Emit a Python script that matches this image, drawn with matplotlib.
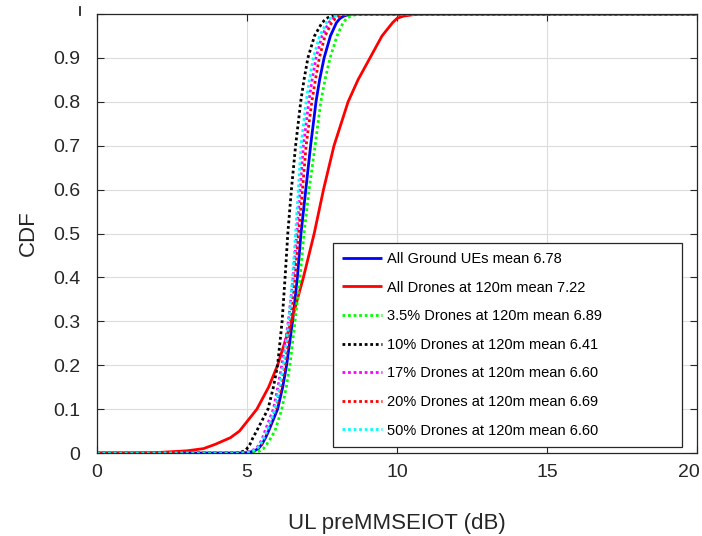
import matplotlib
matplotlib.use("Agg")
import matplotlib.pyplot as plt
from matplotlib.lines import Line2D
from matplotlib.transforms import ScaledTranslation

plt.rcParams['font.family'] = ['Liberation Sans', 'DejaVu Sans']

# CDF levels (y) and x-values at those levels
cdf_levels = [0.0, 0.0, 0.001, 0.005, 0.01, 0.02, 0.035, 0.05, 0.1, 0.15, 0.2, 0.3, 0.4, 0.5,
              0.6, 0.7, 0.8, 0.85, 0.9, 0.95, 0.98, 0.99, 0.995, 0.999, 1.0, 1.0]

ground_x = [0, 4.7, 5.05, 5.25, 5.38, 5.50, 5.62, 5.72, 6.02, 6.19, 6.32, 6.52, 6.68, 6.80,
            6.96, 7.12, 7.30, 7.42, 7.57, 7.78, 7.98, 8.10, 8.22, 8.40, 8.7, 20]
drones_x = [0, 1.2, 2.00, 3.00, 3.55, 3.95, 4.45, 4.75, 5.33, 5.72, 6.02, 6.48, 6.88, 7.24,
            7.55, 7.90, 8.37, 8.70, 9.10, 9.50, 9.85, 10.00, 10.20, 10.60, 11.0, 20]
p35_x    = [0, 5.0, 5.25, 5.43, 5.55, 5.66, 5.80, 5.93, 6.16, 6.31, 6.43, 6.60, 6.77, 6.90,
            7.07, 7.27, 7.46, 7.60, 7.77, 8.00, 8.20, 8.32, 8.45, 8.65, 9.0, 20]
p10_x    = [0, 4.4, 4.75, 4.93, 5.00, 5.10, 5.20, 5.32, 5.70, 5.88, 6.02, 6.17, 6.27, 6.36,
            6.48, 6.62, 6.79, 6.90, 7.03, 7.25, 7.50, 7.65, 7.80, 8.00, 8.3, 20]
p17_x    = [0, 4.7, 4.95, 5.15, 5.30, 5.42, 5.52, 5.60, 5.88, 6.03, 6.16, 6.38, 6.54, 6.66,
            6.77, 6.88, 7.06, 7.17, 7.30, 7.50, 7.72, 7.85, 8.00, 8.20, 8.5, 20]
p20_x    = [0, 4.7, 5.00, 5.22, 5.35, 5.48, 5.60, 5.69, 5.97, 6.13, 6.27, 6.45, 6.60, 6.72,
            6.85, 6.97, 7.16, 7.28, 7.41, 7.60, 7.82, 7.95, 8.10, 8.30, 8.6, 20]
p50_x    = [0, 4.7, 5.00, 5.20, 5.33, 5.45, 5.56, 5.66, 5.93, 6.08, 6.21, 6.40, 6.52, 6.62,
            6.71, 6.80, 6.97, 7.08, 7.21, 7.42, 7.65, 7.78, 7.92, 8.10, 8.4, 20]

labels = ["All Ground UEs mean 6.78",
          "All Drones at 120m mean 7.22",
          "3.5% Drones at 120m mean 6.89",
          "10% Drones at 120m mean 6.41",
          "17% Drones at 120m mean 6.60",
          "20% Drones at 120m mean 6.69",
          "50% Drones at 120m mean 6.60"]

x_ticks = [0, 5, 10, 15, 20]
y_ticks = [0, 0.1, 0.2, 0.3, 0.4, 0.5, 0.6, 0.7, 0.8, 0.9, 1.0]
y_ticklabels = ["0", "0.1", "0.2", "0.3", "0.4", "0.5", "0.6", "0.7", "0.8", "0.9", ""]

fig = plt.figure(figsize=(7.02, 5.36), dpi=100)
ax = fig.add_axes([97/702, 83/536, 600/702, 439/536])

series = [
    (ground_x, '#0000ff', '-'),
    (drones_x, '#ff0000', '-'),
    (p35_x, '#00ff00', ':'),
    (p10_x, '#000000', ':'),
    (p17_x, '#ff00ff', ':'),
    (p20_x, '#ff0000', ':'),
    (p50_x, '#00ffff', ':'),
]
for (xs, col, ls), lab in zip(series, labels):
    if ls == '-':
        ax.plot(xs, cdf_levels, color=col, lw=2.0, label=lab,
                solid_capstyle='butt', solid_joinstyle='round')
    else:
        ax.plot(xs, cdf_levels, color=col, lw=2.0, label=lab,
                linestyle=(0, (1, 1)), dash_capstyle='butt')

ax.set_xlim(0, 20)
ax.set_ylim(0, 1)
ax.set_xticks(x_ticks)
ax.set_yticks(y_ticks)
ax.set_yticklabels(y_ticklabels)
ax.tick_params(direction='in', length=5, width=0.8, colors='#262626',
               labelsize=14, top=True, right=True)
ax.tick_params(axis='x', pad=8)
ax.tick_params(axis='y', pad=12)
for lab in ax.get_xticklabels() + ax.get_yticklabels():
    lab.set_color('#262626')

# last x tick label sits slightly left, inside the figure
last = ax.get_xticklabels()[-1]
last.set_transform(last.get_transform() + ScaledTranslation(-8/100, 0, fig.dpi_scale_trans))

ax.grid(True, color='#dcdcdc', lw=0.8)
ax.set_axisbelow(True)
for s in ax.spines.values():
    s.set_color('#262626')
    s.set_linewidth(0.9)

ax.set_xlabel("UL preMMSEIOT (dB)", fontsize=16, color='#262626')
ax.set_ylabel("CDF", fontsize=16, color='#262626')
ax.xaxis.set_label_coords(0.5, -0.136)
ax.yaxis.set_label_coords(-0.097, 0.5)

leg = ax.legend(loc='lower left', bbox_to_anchor=(0.393, 0.0137, 0.582, 0.4623),
                mode='expand', borderaxespad=0,
                fontsize=10.5, frameon=True, fancybox=False, framealpha=1,
                edgecolor='#262626', handlelength=2.75, handletextpad=0.35,
                labelspacing=1.0, borderpad=0.65)
leg.get_frame().set_linewidth(0.9)

# clipped remnant of the top tick label
fig.add_artist(Line2D([80/702, 80/702], [1-7/536, 1-15/536], color='#262626', lw=1.3))

fig.savefig("out.png", dpi=100)
